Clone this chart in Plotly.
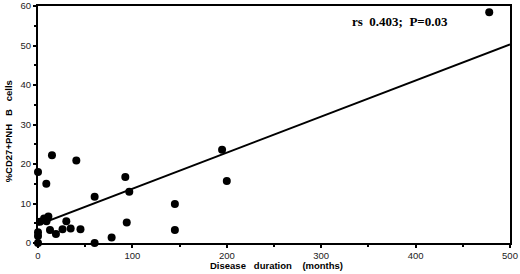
import plotly.graph_objects as go

# Disease duration (months) and %CD27+ PNH B cells
duration = [0, 0, 0, 0, 2, 6.4, 9, 11, 8.8, 14.8, 12.7, 19, 26, 30, 34.6, 45,
            40.6, 60, 60, 78, 92.5, 94, 96.7, 145, 145, 195, 200, 478]
cd27_pnh = [18.0, 2.7, 1.8, 0, 5.4, 6.2, 5.5, 6.7, 15.0, 22.2, 3.3, 2.3, 3.5, 5.5, 3.7, 3.5,
            20.9, 11.7, 0, 1.4, 16.7, 5.2, 13.0, 9.9, 3.3, 23.6, 15.7, 58.4]

# regression line end points
fit_x = [0, 500]
fit_y = [4.6, 50.3]

x_ticks = [0, 100, 200, 300, 400, 500]
y_ticks = [0, 10, 20, 30, 40, 50, 60]

fig = go.Figure()
fig.add_trace(go.Scatter(x=fit_x, y=fit_y, mode="lines",
                         line=dict(color="black", width=2), hoverinfo="skip",
                         cliponaxis=False))
fig.add_trace(go.Scatter(x=duration, y=cd27_pnh, mode="markers",
                         marker=dict(color="black", size=8), cliponaxis=False))

axis_font = dict(family="Liberation Sans, Arial", size=9.5, color="#222")
fig.update_layout(
    width=520, height=274,
    margin=dict(l=38, r=10, t=6, b=31),
    paper_bgcolor="white", plot_bgcolor="white",
    showlegend=False,
    xaxis=dict(range=[0, 500], tickvals=x_ticks, ticks="outside", ticklen=3,
               tickwidth=1.5, tickcolor="black", automargin=False,
               ticklabeloverflow="allow",
               minor=dict(dtick=50, ticks="outside", ticklen=2, tickcolor="black"),
               showline=True, linewidth=2, linecolor="black", mirror=True,
               showgrid=False, zeroline=False, tickfont=axis_font),
    yaxis=dict(range=[0, 60], tickvals=y_ticks, ticks="outside", ticklen=3,
               tickwidth=1.5, tickcolor="black", automargin=False,
               ticklabeloverflow="allow",
               minor=dict(dtick=5, ticks="outside", ticklen=2, tickcolor="black"),
               showline=True, linewidth=2, linecolor="black", mirror=True,
               showgrid=False, zeroline=False, tickfont=axis_font),
    annotations=[
        dict(text="<b>rs&nbsp;&nbsp;0.403;&nbsp;&nbsp;P=0.03</b>", xref="paper", yref="paper",
             x=0.661, y=0.933, xanchor="left", yanchor="middle", showarrow=False,
             font=dict(family="Liberation Serif, Times New Roman", size=13, color="black")),
        dict(text="<b>Disease&nbsp;&nbsp;&nbsp;duration&nbsp;&nbsp;&nbsp;&nbsp;(months)</b>",
             xref="paper", yref="paper", x=0.506, y=-0.096, xanchor="center", yanchor="middle",
             showarrow=False, font=dict(family="Liberation Sans, Arial", size=9.5, color="black")),
        dict(text="<b>%CD27+PNH&nbsp;&nbsp;&nbsp;B&nbsp;&nbsp;&nbsp;cells</b>",
             xref="paper", yref="paper", x=-0.062, y=0.47, xanchor="center", yanchor="middle",
             textangle=-90, showarrow=False,
             font=dict(family="Liberation Sans, Arial", size=9.5, color="black")),
    ],
)

fig.write_html("out.html", config={"displayModeBar": False},
               post_script="document.body.style.margin='0';")
